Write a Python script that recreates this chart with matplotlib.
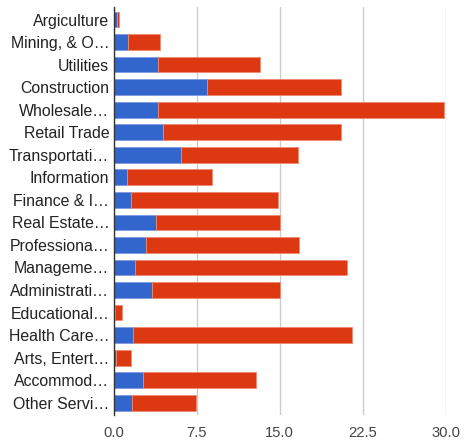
import numpy as np
import matplotlib
matplotlib.use('Agg')
import matplotlib.pyplot as plt

plt.rcParams['font.family'] = ['Liberation Sans', 'DejaVu Sans']

# 行业（截断后的标签）
categories = ['Argiculture', 'Mining, & O…', 'Utilities', 'Construction', 'Wholesale…',
              'Retail Trade', 'Transportati…', 'Information', 'Finance & I…',
              'Real Estate…', 'Professiona…', 'Manageme…', 'Administrati…',
              'Educational…', 'Health Care…', 'Arts, Entert…', 'Accommod…',
              'Other Servi…']

# 蓝色段（第一序列）
series_a = [0.3, 1.35, 4.05, 8.45, 4.0, 4.45, 6.05, 1.2, 1.6, 3.8, 2.9, 1.95,
            3.45, 0.1, 1.75, 0.2, 2.7, 1.65]
# 红色段（第二序列），即总长减去蓝色段
totals = [0.5, 4.2, 13.25, 20.55, 29.8, 20.55, 16.65, 8.9, 14.8, 15.0, 16.75,
          21.1, 15.05, 0.8, 21.55, 1.55, 12.85, 7.45]
series_b = [t - a for t, a in zip(totals, series_a)]

ticks = [0.0, 7.5, 15.0, 22.5, 30.0]

fig = plt.figure(figsize=(4.66, 4.44), dpi=100)
ax = fig.add_axes([0.2436, 0.065, 0.7135, 0.919])

y = np.arange(len(categories))
ax.barh(y, series_a, height=0.7, color='#3366cc', edgecolor='#7f9be0', linewidth=0.6, zorder=3)
ax.barh(y, series_b, left=series_a, height=0.7, color='#dc3912', edgecolor='#f08a73',
        linewidth=0.6, zorder=3)

ax.set_xlim(0, 30)
ax.set_ylim(len(categories) - 0.45, -0.55)
ax.set_xticks(ticks)
ax.set_xticklabels([f'{t:.1f}' for t in ticks])
ax.set_yticks(y)
ax.set_yticklabels(categories)

ax.grid(axis='x', color='#cccccc', linewidth=1, zorder=0)
for s in ['top', 'right', 'bottom']:
    ax.spines[s].set_visible(False)
ax.spines['left'].set_color('#333333')
ax.spines['left'].set_linewidth(1)
ax.spines['left'].set_zorder(4)
ax.tick_params(axis='both', length=0, colors='#222222')
ax.tick_params(axis='x', pad=8, labelsize=10.6, colors='#444444')
ax.tick_params(axis='y', pad=3, labelsize=11.4)

fig.savefig('out.png', dpi=100)
